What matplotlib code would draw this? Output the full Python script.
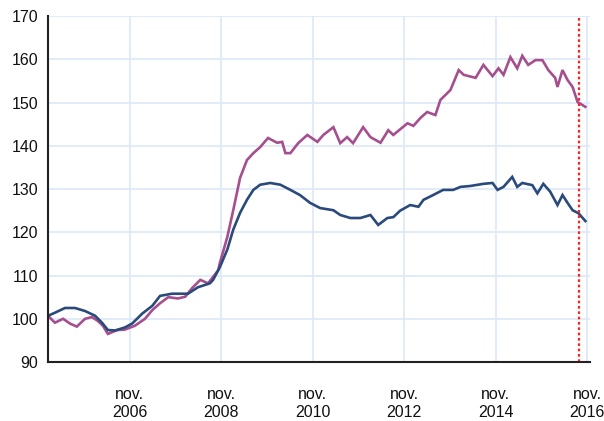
"""Índice de preços: duas séries semanais, jan/2005 a nov/2016."""

import matplotlib

matplotlib.use("Agg")
import matplotlib.pyplot as plt  # noqa: E402

# anos decimais (eixo x) e valores de cada série
anos_azul = [2005.04, 2005.19, 2005.41, 2005.63, 2005.85, 2006.07, 2006.22, 2006.35,
             2006.51, 2006.72, 2006.88, 2007.10, 2007.32, 2007.49, 2007.75, 2007.88,
             2008.10, 2008.32, 2008.58, 2008.65, 2008.80, 2008.96, 2009.09, 2009.24,
             2009.39, 2009.53, 2009.68, 2009.90, 2010.12, 2010.34, 2010.55, 2010.77,
             2010.99, 2011.28, 2011.43, 2011.65, 2011.87, 2012.09, 2012.26, 2012.46,
             2012.59, 2012.74, 2012.96, 2013.14, 2013.25, 2013.46, 2013.68, 2013.90,
             2014.06, 2014.27, 2014.56, 2014.76, 2014.87, 2015.00, 2015.19, 2015.30,
             2015.41, 2015.63, 2015.74, 2015.87, 2016.02, 2016.18, 2016.29, 2016.40,
             2016.51, 2016.64, 2016.79]
valores_azul = [100.7, 101.4, 102.5, 102.5, 101.8, 100.7, 99.1, 97.4,
                97.3, 98.0, 98.9, 101.2, 103.0, 105.3, 105.8, 105.8,
                105.8, 107.3, 108.2, 109.0, 112.0, 116.0, 120.6, 124.5,
                127.5, 129.8, 131.0, 131.4, 131.0, 129.8, 128.6, 126.8,
                125.6, 125.1, 124.0, 123.3, 123.3, 124.0, 121.7, 123.3,
                123.5, 125.0, 126.3, 125.9, 127.5, 128.6, 129.8, 129.8,
                130.5, 130.7, 131.2, 131.4, 129.8, 130.5, 132.8, 130.5,
                131.4, 130.9, 129.0, 131.2, 129.4, 126.3, 128.6, 126.8,
                125.1, 124.4, 122.6]

anos_rosa = [2005.04, 2005.19, 2005.37, 2005.52, 2005.67, 2005.85, 2006.00, 2006.13,
             2006.24, 2006.35, 2006.55, 2006.72, 2006.94, 2007.16, 2007.32, 2007.49,
             2007.67, 2007.88, 2008.04, 2008.19, 2008.37, 2008.54, 2008.76, 2008.80,
             2008.96, 2009.09, 2009.24, 2009.39, 2009.53, 2009.68, 2009.85, 2010.05,
             2010.16, 2010.23, 2010.34, 2010.51, 2010.71, 2010.93, 2011.06, 2011.28,
             2011.43, 2011.58, 2011.71, 2011.93, 2012.09, 2012.31, 2012.48, 2012.59,
             2012.90, 2013.03, 2013.18, 2013.33, 2013.51, 2013.62, 2013.84, 2014.02,
             2014.13, 2014.39, 2014.56, 2014.76, 2014.89, 2015.00, 2015.15, 2015.30,
             2015.41, 2015.54, 2015.70, 2015.85, 2015.98, 2016.13, 2016.18, 2016.29,
             2016.40, 2016.51, 2016.62, 2016.79]
valores_rosa = [100.7, 99.1, 100.0, 98.9, 98.2, 100.0, 100.4, 99.5,
                98.4, 96.5, 97.4, 97.5, 98.4, 100.0, 102.0, 103.6,
                105.0, 104.7, 105.1, 107.1, 109.0, 108.2, 111.2, 113.0,
                118.9, 125.1, 132.6, 136.7, 138.3, 139.7, 141.8, 140.7,
                140.9, 138.3, 138.3, 140.6, 142.5, 140.9, 142.5, 144.3,
                140.6, 142.0, 140.6, 144.3, 142.0, 140.7, 143.6, 142.5,
                145.2, 144.6, 146.4, 147.8, 147.1, 150.6, 152.9, 157.5,
                156.4, 155.7, 158.7, 156.1, 157.9, 156.4, 160.5, 157.9,
                160.8, 158.7, 159.8, 159.8, 157.5, 155.7, 153.6, 157.5,
                155.2, 153.6, 150.1, 149.0]

ticks_x = [2006.83, 2008.83, 2010.83, 2012.83, 2014.83, 2016.83]
rotulos_x = ["nov.\n2006", "nov.\n2008", "nov.\n2010", "nov.\n2012", "nov.\n2014", "nov.\n2016"]
ticks_y = [90, 100, 110, 120, 130, 140, 150, 160, 170]
marco = 2016.64  # linha vertical vermelha

_AZUL = "#2b4a7c"
_ROSA = "#a64f8e"
_GRADE = "#dde9f8"

plt.rcParams["font.family"] = ["Liberation Sans", "DejaVu Sans"]

fig = plt.figure(figsize=(6.04, 4.21), dpi=100)
ax = fig.add_axes((0.0795, 0.140, 0.898, 0.822))

ax.plot(anos_rosa, valores_rosa, color=_ROSA, lw=1.9, solid_joinstyle="miter")
ax.plot(anos_azul, valores_azul, color=_AZUL, lw=1.9, solid_joinstyle="miter")
ax.axvline(marco, color="#ff2020", lw=1.6, ls=(0, (1.2, 1.2)))

ax.set_xlim(2005.04, 2016.9)
ax.set_ylim(90, 170)
ax.set_xticks(ticks_x)
ax.set_xticklabels(rotulos_x, linespacing=1.25)
ax.set_yticks(ticks_y)

ax.grid(True, color=_GRADE, lw=1.2)
ax.set_axisbelow(True)
ax.spines[["top", "right"]].set_visible(False)
ax.spines["left"].set_linewidth(1.5)
ax.spines["bottom"].set_linewidth(1.5)
ax.spines["left"].set_color("#222222")
ax.spines["bottom"].set_color("#222222")
ax.tick_params(axis="both", length=0, labelsize=11.5, labelcolor="#111111")
ax.tick_params(axis="y", pad=7)
ax.tick_params(axis="x", pad=18)

fig.savefig("out.png", dpi=100)
plt.close(fig)
